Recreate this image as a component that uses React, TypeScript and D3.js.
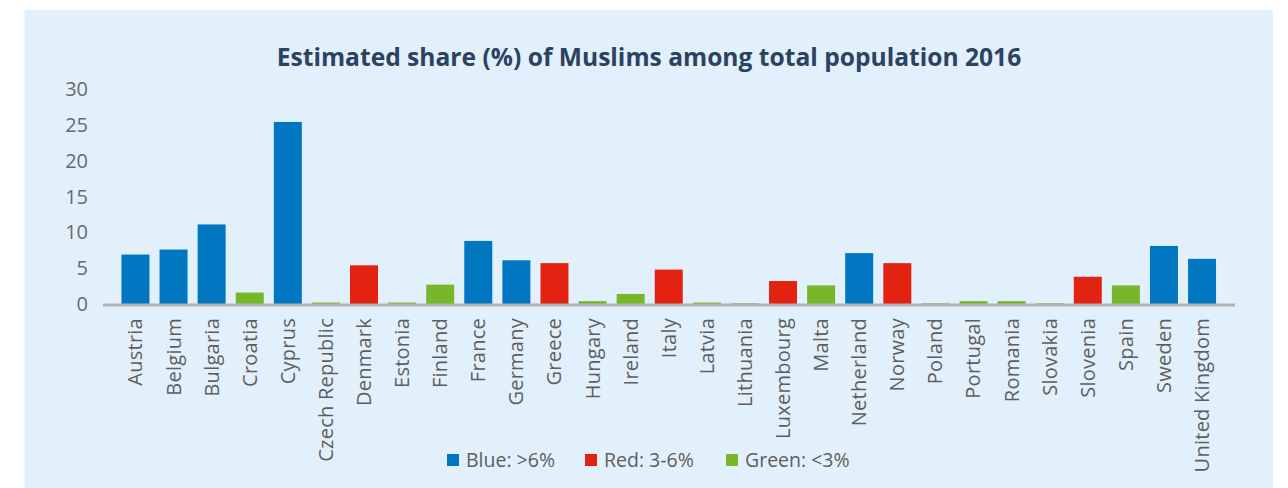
import React, { useEffect, useRef } from 'react';
import * as d3 from 'd3';

const countries = [
  'Austria', 'Belgium', 'Bulgaria', 'Croatia', 'Cyprus', 'Czech Republic', 'Denmark',
  'Estonia', 'Finland', 'France', 'Germany', 'Greece', 'Hungary', 'Ireland', 'Italy',
  'Latvia', 'Lithuania', 'Luxembourg', 'Malta', 'Netherland', 'Norway', 'Poland',
  'Portugal', 'Romania', 'Slovakia', 'Slovenia', 'Spain', 'Sweden', 'United Kingdom',
];

const shares = [
  6.9, 7.6, 11.1, 1.6, 25.4, 0.2, 5.4,
  0.2, 2.7, 8.8, 6.1, 5.7, 0.4, 1.4, 4.8,
  0.2, 0.1, 3.2, 2.6, 7.1, 5.7, 0.1,
  0.4, 0.4, 0.1, 3.8, 2.6, 8.1, 6.3,
];

// group per bar: 'blue' >6%, 'red' 3-6%, 'green' <3%
const groups = [
  'blue', 'blue', 'blue', 'green', 'blue', 'green', 'red',
  'green', 'green', 'blue', 'blue', 'red', 'green', 'green', 'red',
  'green', 'green', 'red', 'green', 'blue', 'red', 'green',
  'green', 'green', 'green', 'red', 'green', 'blue', 'blue',
];

const yTicks = [0, 5, 10, 15, 20, 25, 30];

const legendKeys = ['blue', 'red', 'green'];
const legendLabels = ['Blue: >6%', 'Red: 3-6%', 'Green: <3%'];

const App = () => {
  const chartRef = useRef(null);

  useEffect(() => {
    const W = 1288;
    const H = 488;
    const font = "'Open Sans', 'DejaVu Sans', sans-serif";

    d3.select(chartRef.current).selectAll('*').remove();

    const svg = d3
      .select(chartRef.current)
      .append('svg')
      .attr('width', W)
      .attr('height', H)
      .style('position', 'absolute')
      .style('left', 0)
      .style('top', 0);

    svg
      .append('rect')
      .attr('x', 24.5)
      .attr('y', 10)
      .attr('width', 1248.5)
      .attr('height', H - 10)
      .attr('fill', '#e2f0fb');

    svg
      .append('text')
      .attr('x', 649)
      .attr('y', 66)
      .attr('text-anchor', 'middle')
      .style('font-family', font)
      .style('font-weight', 'bold')
      .style('font-size', '24.6px')
      .style('fill', '#2b4360')
      .text('Estimated share (%) of Muslims among total population 2016');

    const data = countries.map((c, i) => ({ country: c, value: shares[i], group: groups[i] }));

    const x = d3
      .scaleBand()
      .domain(countries)
      .range([116.5, 1221])
      .paddingInner(0.265)
      .paddingOuter(0.13);

    const y = d3.scaleLinear().domain([0, 30]).range([304, 89]);

    const color = d3
      .scaleOrdinal()
      .domain(legendKeys)
      .range(['#0077c0', '#e32212', '#77b82a']);

    // y tick labels
    svg
      .append('g')
      .selectAll('text')
      .data(yTicks)
      .enter()
      .append('text')
      .attr('x', 88)
      .attr('y', d => y(d))
      .attr('dy', '0.35em')
      .attr('text-anchor', 'end')
      .style('font-family', font)
      .style('font-size', '20px')
      .style('fill', '#6a6a6a')
      .text(d => d);

    svg
      .append('g')
      .selectAll('rect')
      .data(data)
      .enter()
      .append('rect')
      .attr('x', d => x(d.country))
      .attr('width', x.bandwidth())
      .attr('y', d => y(d.value))
      .attr('height', d => y(0) - y(d.value))
      .attr('fill', d => color(d.group));

    // baseline
    svg
      .append('line')
      .attr('x1', 103)
      .attr('x2', 1235)
      .attr('y1', y(0) + 1)
      .attr('y2', y(0) + 1)
      .attr('stroke', '#b3b3b5')
      .attr('stroke-width', 3);

    // category labels
    svg
      .append('g')
      .selectAll('text')
      .data(countries)
      .enter()
      .append('text')
      .attr('transform', d => `translate(${x(d) + x.bandwidth() / 2}, 318) rotate(-90)`)
      .attr('dy', '0.35em')
      .attr('text-anchor', 'end')
      .style('font-family', font)
      .style('font-size', '20px')
      .style('letter-spacing', '0.25px')
      .style('fill', '#5e5e5e')
      .text(d => d);

    const legendX = [447, 585, 726];
    const legend = svg.append('g');
    legendKeys.forEach((k, i) => {
      const g = legend.append('g').attr('transform', `translate(${legendX[i]}, 460)`);
      g.append('rect')
        .attr('x', 0)
        .attr('y', -6)
        .attr('width', 12)
        .attr('height', 12)
        .attr('fill', color(k));
      g.append('text')
        .attr('x', 19)
        .attr('y', 0)
        .attr('dy', '0.35em')
        .style('font-family', font)
        .style('font-size', '19.5px')
        .style('fill', '#5e5e5e')
        .text(legendLabels[i]);
    });
  }, []);

  return <div ref={chartRef}></div>;
};

export default App;
